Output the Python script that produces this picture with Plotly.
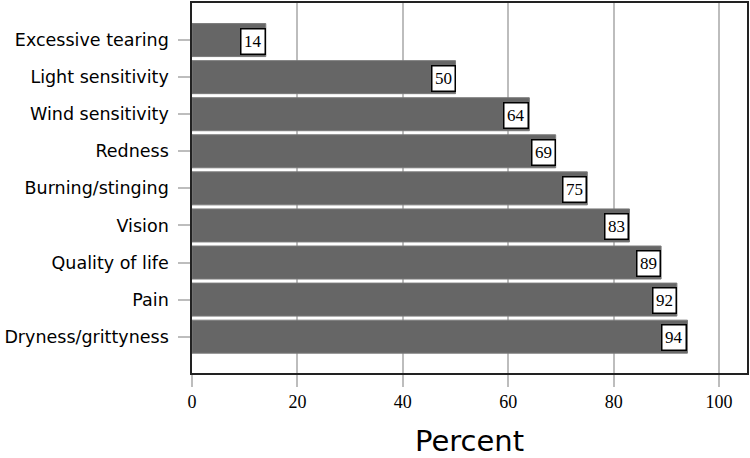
import plotly.graph_objects as go

categories = ["Excessive tearing", "Light sensitivity", "Wind sensitivity", "Redness",
              "Burning/stinging", "Vision", "Quality of life", "Pain", "Dryness/grittyness"]
values = [14, 50, 64, 69, 75, 83, 89, 92, 94]
x_ticks = [0, 20, 40, 60, 80, 100]

fig = go.Figure()
fig.add_trace(go.Bar(
    y=categories, x=values, orientation="h",
    marker=dict(color="#666666", line=dict(color="#7a7a7a", width=1)),
    hoverinfo="skip",
))

for c, v in zip(categories, values):
    fig.add_annotation(
        x=v, y=c, xref="x", yref="y", text=str(v), showarrow=False,
        xanchor="right", yanchor="middle", yshift=-1,
        font=dict(family="Liberation Serif", size=17, color="black"),
        bgcolor="white", bordercolor="black", borderwidth=1.5, borderpad=2.5,
    )

fig.update_layout(
    width=750, height=458,
    margin=dict(l=192, r=3, t=3, b=85),
    paper_bgcolor="white", plot_bgcolor="white",
    bargap=0.11, showlegend=False,
    xaxis=dict(
        range=[0, 105.3], tickvals=x_ticks, ticktext=[str(t) for t in x_ticks],
        showgrid=True, gridcolor="#bdbdbd", gridwidth=1.5,
        ticks="outside", ticklen=12, tickcolor="#bdbdbd", tickwidth=1.5,
        tickfont=dict(family="Liberation Serif", size=18, color="black"),
        showline=True, linecolor="#222222", linewidth=1.5, mirror=True,
        zeroline=False, automargin=False,
        title=dict(text="Percent", font=dict(family="DejaVu Sans", size=29, color="black"), standoff=19),
    ),
    yaxis=dict(
        categoryorder="array", categoryarray=categories,
        autorange=False, range=[8.98, -1],
        showgrid=False,
        ticks="outside", ticklen=12, tickcolor="#bdbdbd", tickwidth=1.5,
        tickfont=dict(family="DejaVu Sans", size=17.5, color="black"),
        ticklabelstandoff=6,
        showline=True, linecolor="#222222", linewidth=1.5, mirror=True,
        zeroline=False, automargin=False,
    ),
)

fig.write_html("out.html", config={"displayModeBar": False},
               post_script="document.body.style.margin='0';document.body.style.overflow='hidden';")
